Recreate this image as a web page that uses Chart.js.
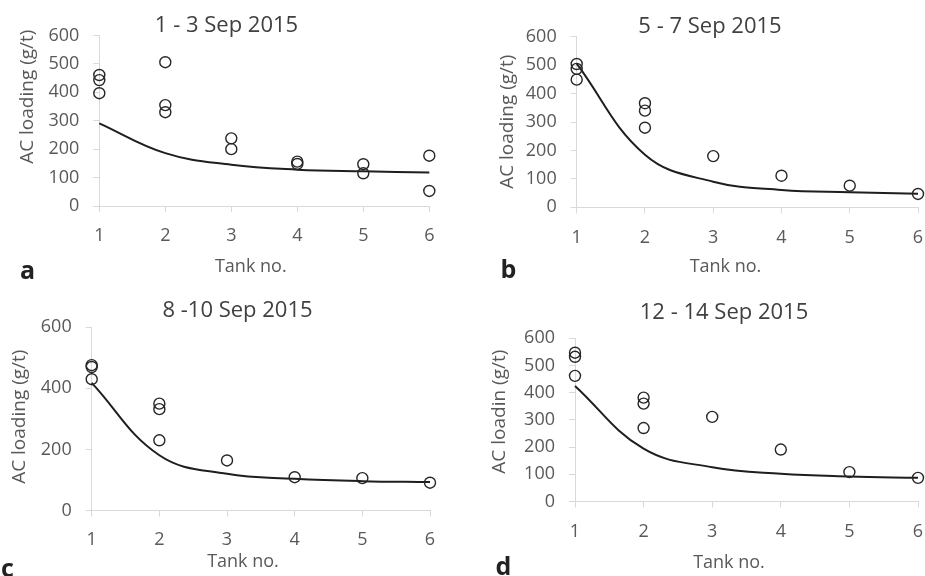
<!DOCTYPE html>
<html><head><meta charset="utf-8">
<script src="https://cdn.jsdelivr.net/npm/chart.js@4/dist/chart.umd.min.js"></script>
<style>
html,body{margin:0;padding:0;background:#fff;overflow:hidden;width:925px;height:576px;position:relative;}
canvas{position:absolute;}
</style></head><body>
<canvas id="ca"></canvas>
<canvas id="cb"></canvas>
<canvas id="cc"></canvas>
<canvas id="cd"></canvas>
<script>
// ---- data ----
const tankNo = [1, 2, 3, 4, 5, 6];
const chartTitles = ['1 - 3 Sep 2015', '5 - 7 Sep 2015', '8 -10 Sep 2015', '12 - 14 Sep 2015'];
const yAxisTitles = ['AC loading (g/t)', 'AC loading (g/t)', 'AC loading (g/t)', 'AC loadin (g/t)'];
const xAxisTitle = 'Tank no.';
const panelLetters = ['a', 'b', 'c', 'd'];
const yMaxes = [600, 600, 600, 600];
const yStepsA = 100, yStepsB = 100, yStepsC = 200, yStepsD = 100;

const aObsX = [1, 1, 1, 2, 2, 2, 3, 3, 4, 4, 5, 5, 6, 6];
const aObsY = [461, 443, 397, 506, 355, 330, 238, 200, 156, 148, 147, 115, 177, 53];
const aModel = [291, 186, 145, 128, 122, 118];

const bObsX = [1, 1, 1, 2, 2, 2, 3, 4, 5, 6];
const bObsY = [504, 487, 449, 366, 340, 280, 180, 111, 76, 47];
const bModel = [505, 185, 90, 61, 53, 48];

const cObsX = [1, 1, 1, 2, 2, 2, 3, 4, 5, 6];
const cObsY = [476, 470, 430, 350, 332, 230, 164, 109, 106, 91];
const cModel = [418, 181, 120, 104, 96, 93];

const dObsX = [1, 1, 1, 2, 2, 2, 3, 4, 5, 6];
const dObsY = [547, 532, 462, 382, 360, 270, 311, 191, 108, 87];
const dModel = [425, 194, 126, 102, 92, 87];

// ---- layout (positions only) ----
const panels = [
  {id:'ca', obsX:aObsX, obsY:aObsY, model:aModel, step:yStepsA, title:chartTitles[0], yTitle:yAxisTitles[0], letter:panelLetters[0], yMax:yMaxes[0],
   left:0, top:0, w:453, h:290, rW:23.7, yW:99.3, xH:84, tPad:{top:17, bottom:0.9}, tickPad:13.5,
   yT:{x:33, y:96.7}, xT:{x:250.8, y:271.7}, lt:{x:20, y:279}},
  {id:'cb', obsX:bObsX, obsY:bObsY, model:bModel, step:yStepsB, title:chartTitles[1], yTitle:yAxisTitles[1], letter:panelLetters[1], yMax:yMaxes[1],
   left:470, top:0, w:480, h:290, rW:32, yW:106.7, xH:82.7, tPad:{top:17.7, bottom:1.4}, tickPad:13.5,
   yT:{x:513.3, y:121.7}, xT:{x:725.5, y:271.7}, lt:{x:500.5, y:278}},
  {id:'cc', obsX:cObsX, obsY:cObsY, model:cModel, step:yStepsC, title:chartTitles[2], yTitle:yAxisTitles[2], letter:panelLetters[2], yMax:yMaxes[2],
   left:0, top:290, w:475, h:286, rW:45, yW:91.7, xH:65.5, tPad:{top:11.8, bottom:7.9}, tickPad:12.7,
   yT:{x:25, y:416.7}, xT:{x:243, y:566.7}, lt:{x:1, y:577}},
  {id:'cd', obsX:dObsX, obsY:dObsY, model:dModel, step:yStepsD, title:chartTitles[3], yTitle:yAxisTitles[3], letter:panelLetters[3], yMax:yMaxes[3],
   left:470, top:290, w:508, h:286, rW:60, yW:105, xH:74.5, tPad:{top:14.2, bottom:16.5}, tickPad:13.5,
   yT:{x:505, y:411.7}, xT:{x:729, y:568.3}, lt:{x:495.5, y:575}}
];

Chart.defaults.font.family = '"Open Sans", sans-serif';

const annotPlugin = {
  id: 'annot',
  afterDraw(chart, args, o) {
    const ctx = chart.ctx;
    ctx.save();
    ctx.fillStyle = '#595959';
    ctx.font = '19px "Open Sans", sans-serif';
    ctx.textAlign = 'center';
    ctx.textBaseline = 'alphabetic';
    ctx.save();
    ctx.translate(o.yT.x - o.left, o.yT.y - o.top);
    ctx.rotate(-Math.PI / 2);
    ctx.fillText(o.yText, 0, 0);
    ctx.restore();
    ctx.font = '18px "Open Sans", sans-serif';
    ctx.fillText(o.xText, o.xT.x - o.left, o.xT.y - o.top);
    ctx.fillStyle = '#222222';
    ctx.font = 'bold 25px "Open Sans", sans-serif';
    ctx.textAlign = 'left';
    ctx.fillText(o.letter, o.lt.x - o.left, o.lt.y - o.top);
    ctx.restore();
  }
};

panels.forEach(p => {
  const cv = document.getElementById(p.id);
  cv.width = p.w; cv.height = p.h;
  cv.style.left = p.left + 'px'; cv.style.top = p.top + 'px';
  cv.style.width = p.w + 'px'; cv.style.height = p.h + 'px';
  const obs = p.obsX.map((x, i) => ({x: x, y: p.obsY[i]}));
  const mdl = tankNo.map((x, i) => ({x: x, y: p.model[i]}));
  new Chart(cv, {
    type: 'scatter',
    data: {
      datasets: [
        {label: 'Measured', data: obs, showLine: false, pointRadius: 5.5, pointBorderWidth: 1.4,
         pointBorderColor: '#262626', pointBackgroundColor: 'rgba(255,255,255,0)', clip: false},
        {label: 'Model', data: mdl, showLine: true, pointRadius: 0, borderColor: '#1e1e1e', borderWidth: 2,
         tension: 0.4, clip: false}
      ]
    },
    options: {
      responsive: false,
      animation: false,
      events: [],
      layout: {padding: 0},
      plugins: {
        legend: {display: false},
        tooltip: {enabled: false},
        title: {display: true, text: p.title, color: '#404040',
                font: {size: 22, weight: 'normal', lineHeight: 0.8}, padding: p.tPad},
        annot: {left: p.left, top: p.top, yT: p.yT, xT: p.xT, lt: p.lt,
                yText: p.yTitle, xText: xAxisTitle, letter: p.letter}
      },
      scales: {
        x: {
          type: 'linear', min: 1, max: 6,
          ticks: {stepSize: 1, color: '#595959', font: {size: 18}, padding: p.tickPad},
          grid: {display: true, drawOnChartArea: false, drawTicks: true, tickLength: 6, color: '#d9d9d9'},
          border: {display: true, color: '#d9d9d9', width: 1},
          afterFit: s => { s.height = p.xH; }
        },
        y: {
          type: 'linear', min: 0, max: p.yMax,
          ticks: {stepSize: p.step, color: '#595959', font: {size: 18}, padding: 14},
          grid: {display: true, drawOnChartArea: false, drawTicks: true, tickLength: 6, color: '#d9d9d9'},
          border: {display: true, color: '#d9d9d9', width: 1},
          afterFit: s => { s.width = p.yW; }
        },
        ySpace: {
          type: 'linear', position: 'right', display: true,
          ticks: {display: false}, grid: {display: false}, border: {display: false},
          afterFit: s => { s.width = p.rW; }
        }
      }
    },
    plugins: [annotPlugin]
  });
});
</script>
</body></html>
